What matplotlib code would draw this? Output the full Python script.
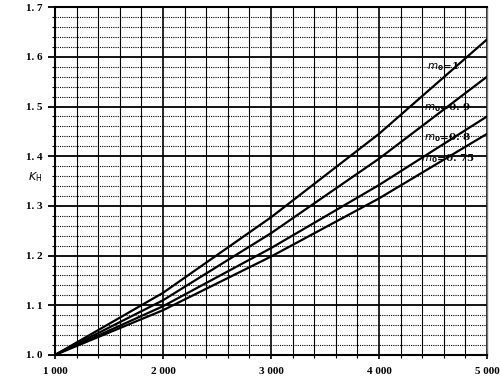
import matplotlib.pyplot as plt
from matplotlib.ticker import MultipleLocator, FixedLocator

# speed values (x axis) and K_H for each m0 curve
speed = [1000, 2000, 3000, 4000, 5000]
k_m1 = [1.0, 1.125, 1.277, 1.445, 1.635]
k_m09 = [1.0, 1.110, 1.245, 1.395, 1.560]
k_m08 = [1.0, 1.098, 1.215, 1.342, 1.480]
k_m075 = [1.0, 1.090, 1.198, 1.315, 1.445]

curve_labels = ["=1", "=0. 9", "=0. 8", "=0. 75"]
label_pos = [(4440, 1.580), (4420, 1.497), (4420, 1.437), (4390, 1.396)]

x_ticks = [1000, 2000, 3000, 4000, 5000]
x_tick_labels = ["1 000", "2 000", "3 000", "4 000", "5 000"]
y_ticks = [1.0, 1.1, 1.2, 1.3, 1.4, 1.5, 1.6, 1.7]
y_tick_labels = ["1. 0", "1. 1", "1. 2", "1. 3", "1. 4", "1. 5", "1. 6", "1. 7"]

fig = plt.figure(figsize=(5, 3.76), dpi=100)
ax = fig.add_axes([0.11, 0.056, 0.864, 0.925])

ax.set_xlim(1000, 5000)
ax.set_ylim(1.0, 1.7)

# grid: dotted minor horizontals, solid majors, solid verticals every 200
ax.yaxis.set_minor_locator(MultipleLocator(0.02))
ax.xaxis.set_minor_locator(MultipleLocator(200))
ax.grid(which="minor", axis="y", color="black", linestyle=(0, (1, 1)), linewidth=0.8)
ax.grid(which="major", axis="y", color="black", linestyle="-", linewidth=1.3)
ax.grid(which="minor", axis="x", color="black", linestyle="-", linewidth=0.8)
ax.grid(which="major", axis="x", color="black", linestyle="-", linewidth=1.2)
ax.set_axisbelow(True)

for k in [k_m1, k_m09, k_m08, k_m075]:
    ax.plot(speed, k, color="black", linewidth=1.6, zorder=3)

for txt, (lx, ly) in zip(curve_labels, label_pos):
    ax.text(lx, ly, r"$\mathbf{\mathit{m}_0}$" + txt, fontsize=7.5, fontweight="bold",
            family="DejaVu Serif", va="center", ha="left", zorder=4)

ax.xaxis.set_major_locator(FixedLocator(x_ticks))
ax.yaxis.set_major_locator(FixedLocator(y_ticks))
ax.set_xticklabels(x_tick_labels, fontsize=8, fontweight="bold", family="Liberation Serif")
ax.set_yticklabels(y_tick_labels, fontsize=8, fontweight="bold", family="Liberation Serif")
ax.tick_params(axis="y", which="major", length=5, width=1.3, direction="out", pad=4)
ax.tick_params(axis="y", which="minor", length=2, width=0.8)
ax.tick_params(axis="x", which="major", length=3, width=1.2, pad=6)
ax.tick_params(axis="x", which="minor", length=2, width=0.8)

for side in ["left", "bottom", "top"]:
    ax.spines[side].set_linewidth(1.5)
ax.spines["right"].set_linewidth(1.0)
ax.spines["right"].set_color("#777777")

ax.text(-0.045, 0.51, r"$K_\mathrm{H}$", transform=ax.transAxes, fontsize=8,
        family="DejaVu Serif", ha="center", va="center")

fig.savefig("out.png", dpi=100)
